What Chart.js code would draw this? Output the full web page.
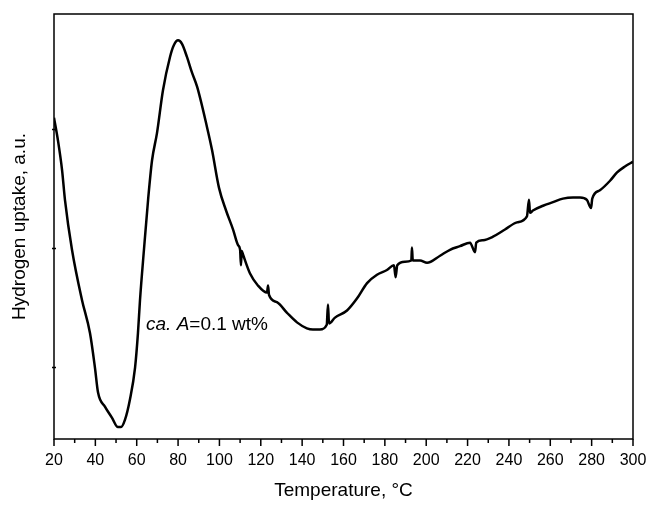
<!DOCTYPE html>
<html>
<head>
<meta charset="utf-8">
<script src="https://cdn.jsdelivr.net/npm/chart.js@4.4.1/dist/chart.umd.min.js"></script>
<style>
  html, body { margin: 0; padding: 0; background: #fff; }
  #wrap { width: 649px; height: 507px; position: relative; }
</style>
</head>
<body>
<div id="wrap"><canvas id="chart"></canvas></div>
<script>
// temperature, degC
const temperatures = [
  20, 21.9, 23.9, 25.3, 28.7, 33.5, 37.4, 39.8, 41.3, 44.7, 48.0, 50.9,
  52.4, 54.3, 56.7, 59.2, 60.6, 61.6, 63.5, 65.5, 67.4, 69.8, 72.7, 76.1,
  78.0, 80.0, 81.9, 84.3, 86.7, 89.2, 94.0, 96.4, 99.8, 103.2, 106.6, 109.0,
  110.0, 110.4, 110.8, 111.4, 114.8, 118.6, 123.0, 123.5, 124.0, 127.8, 132.7, 137.5,
  142.3, 145.2, 148.6, 151.9, 152.5, 153.0, 155.9, 161.7, 166.5, 171.4, 176.2, 181.0,
  184.4, 185.2, 186.0, 189.7, 192.8, 193.1, 193.5, 197.0, 200.4, 206.7, 211.5, 216.3,
  221.2, 223.6, 224.2, 227.5, 232.3, 238.1, 243.9, 248.7, 249.7, 250.2, 251.6, 256.5,
  261.3, 266.1, 271.0, 274.4, 277.7, 279.7, 280.3, 284.0, 288.9, 292.3, 296.1, 300
];

// hydrogen uptake, arbitrary units
const uptake = [
  2.10, 1.91, 1.66, 1.41, 0.99, 0.57, 0.29, 0.00, -0.21, -0.33, -0.42, -0.50,
  -0.50, -0.44, -0.27, 0.00, 0.29, 0.57, 0.99, 1.41, 1.74, 1.97, 2.33, 2.61,
  2.71, 2.75, 2.72, 2.61, 2.48, 2.36, 2.02, 1.83, 1.51, 1.32, 1.16, 1.03,
  0.99, 0.86, 0.98, 0.95, 0.79, 0.69, 0.63, 0.69, 0.61, 0.55, 0.46, 0.38,
  0.33, 0.32, 0.32, 0.36, 0.53, 0.37, 0.42, 0.48, 0.58, 0.71, 0.78, 0.82,
  0.86, 0.76, 0.86, 0.89, 0.90, 1.01, 0.90, 0.90, 0.88, 0.94, 0.99, 1.02,
  1.05, 0.97, 1.05, 1.07, 1.10, 1.16, 1.22, 1.27, 1.41, 1.30, 1.32, 1.36,
  1.39, 1.42, 1.43, 1.43, 1.41, 1.34, 1.42, 1.49, 1.57, 1.64, 1.69, 1.73
];

const xMajorTicks = [20, 40, 60, 80, 100, 120, 140, 160, 180, 200, 220, 240, 260, 280, 300];
const xMinorTicks = [30, 50, 70, 90, 110, 130, 150, 170, 190, 210, 230, 250, 270, 290];
const yTicks = [0, 1, 2];

const FONT = "'Liberation Sans', Arial, Helvetica, sans-serif";

// frame, tick marks and the "ca. A" note
const decorPlugin = {
  id: "decor",
  afterDraw(chart) {
    const ctx = chart.ctx;
    const area = chart.chartArea;
    const xs = chart.scales.x;
    const ys = chart.scales.y;

    ctx.save();
    ctx.strokeStyle = "#000";
    ctx.lineWidth = 1.5;
    ctx.strokeRect(area.left, area.top, area.right - area.left, area.bottom - area.top);

    ctx.beginPath();
    xMajorTicks.forEach(v => {
      const px = xs.getPixelForValue(v);
      ctx.moveTo(px, area.bottom);
      ctx.lineTo(px, area.bottom + 7);
    });
    xMinorTicks.forEach(v => {
      const px = xs.getPixelForValue(v);
      ctx.moveTo(px, area.bottom);
      ctx.lineTo(px, area.bottom + 4);
    });
    yTicks.forEach(v => {
      const py = ys.getPixelForValue(v);
      ctx.moveTo(area.left - 2, py);
      ctx.lineTo(area.left + 2, py);
    });
    ctx.stroke();

    // note text
    let x = xs.getPixelForValue(64.5);
    const y = ys.getPixelForValue(0.316);
    ctx.fillStyle = "#000";
    ctx.textBaseline = "alphabetic";
    const parts = [
      ["ca.", true],
      [" ", false],
      ["A", true],
      ["=0.1 wt%", false]
    ];
    parts.forEach(p => {
      ctx.font = (p[1] ? "italic " : "") + "19px " + FONT;
      ctx.fillText(p[0], x, y);
      x += ctx.measureText(p[0]).width;
    });
    ctx.restore();
  }
};

const points = temperatures.map((t, i) => ({ x: t, y: uptake[i] }));

new Chart(document.getElementById("chart"), {
  type: "line",
  data: {
    datasets: [
      {
        data: points,
        borderColor: "#000",
        borderWidth: 2.5,
        pointRadius: 0,
        cubicInterpolationMode: "monotone",
        fill: false
      }
    ]
  },
  options: {
    responsive: true,
    maintainAspectRatio: false,
    animation: false,
    events: [],
    layout: {
      padding: { top: 14, right: 16, left: 0, bottom: 0 }
    },
    plugins: {
      legend: { display: false },
      tooltip: { enabled: false }
    },
    scales: {
      x: {
        type: "linear",
        min: 20,
        max: 300,
        afterBuildTicks: scale => {
          scale.ticks = xMajorTicks.map(v => ({ value: v }));
        },
        afterFit: scale => {
          scale.height = 68;
          scale.paddingLeft = 0;
          scale.paddingRight = 0;
        },
        ticks: {
          color: "#000",
          padding: 12,
          maxRotation: 0,
          font: { family: FONT, size: 16 }
        },
        grid: { display: false, drawTicks: false },
        border: { display: false },
        title: {
          display: true,
          text: "Temperature, \u00B0C",
          color: "#000",
          font: { family: FONT, size: 19 },
          padding: { top: 0, bottom: 5 }
        }
      },
      y: {
        type: "linear",
        min: -0.6,
        max: 2.971,
        afterBuildTicks: scale => {
          scale.ticks = yTicks.map(v => ({ value: v }));
        },
        afterFit: scale => {
          scale.width = 54;
          scale.paddingTop = 0;
          scale.paddingBottom = 0;
        },
        ticks: { display: false },
        grid: { display: false, drawTicks: false },
        border: { display: false },
        title: {
          display: true,
          text: "Hydrogen uptake, a.u.",
          color: "#000",
          font: { family: FONT, size: 19 },
          padding: { top: 8, bottom: 0 }
        }
      }
    }
  },
  plugins: [decorPlugin]
});
</script>
</body>
</html>
